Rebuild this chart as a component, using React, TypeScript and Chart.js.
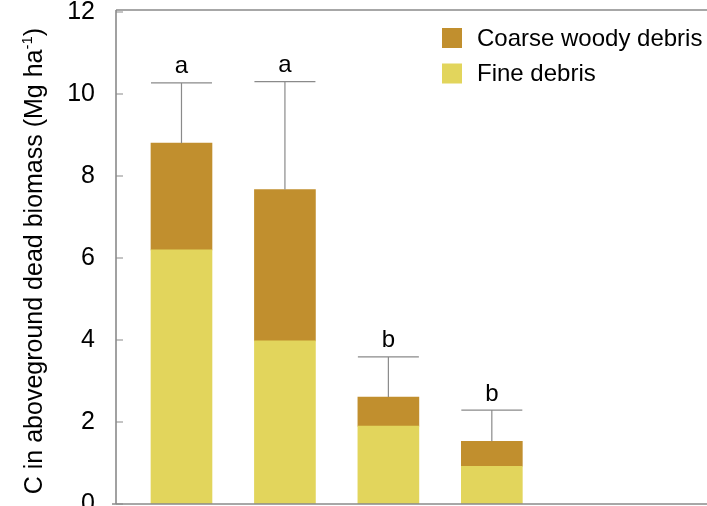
import React, { useEffect, useRef } from 'react';
import { Chart, registerables } from 'chart.js';

Chart.register(...registerables);

// ---- data ----
const categories = ['Site 1', 'Site 2', 'Site 3', 'Site 4'];
const positions = [1, 2, 3, 4];
const fineDebris = [6.2, 3.98, 1.9, 0.92];
const coarseDebris = [2.6, 3.69, 0.71, 0.61];
const errorUp = [1.47, 2.63, 0.98, 0.76];
const letters = ['a', 'a', 'b', 'b'];
const yTickValues = [0, 2, 4, 6, 8, 10, 12];

const FINE = '#E2D55C';
const COARSE = '#C18F2E';
const LINE = '#8a8a8a';
const FONT = '"Liberation Sans", Arial, Helvetica, sans-serif';
const W = 707;
const H = 560;

const overlay = {
  id: 'overlay',
  afterDraw(chart: any) {
    const ctx = chart.ctx;
    const { left, right, top, bottom } = chart.chartArea;
    const xs = chart.scales.x;
    const ys = chart.scales.y;
    ctx.save();
    // frame
    ctx.strokeStyle = LINE;
    ctx.lineWidth = 1.6;
    ctx.beginPath();
    ctx.moveTo(left, top - 2);
    ctx.lineTo(right, top - 2);
    ctx.moveTo(left, top - 2);
    ctx.lineTo(left, bottom);
    ctx.moveTo(left - 4, bottom);
    ctx.lineTo(right, bottom);
    ctx.stroke();
    // inward ticks
    ctx.lineWidth = 1.2;
    ctx.beginPath();
    yTickValues.forEach((v) => {
      const py = ys.getPixelForValue(v);
      ctx.moveTo(left, py);
      ctx.lineTo(left + 7, py);
    });
    ctx.stroke();
    // error bars + letters
    const meta = chart.getDatasetMeta(1);
    ctx.lineWidth = 1.2;
    ctx.fillStyle = '#000';
    ctx.font = `24px ${FONT}`;
    ctx.textAlign = 'center';
    ctx.textBaseline = 'alphabetic';
    positions.forEach((p, i) => {
      const total = fineDebris[i] + coarseDebris[i];
      const px = xs.getPixelForValue(p);
      const y0 = ys.getPixelForValue(total);
      const y1 = ys.getPixelForValue(total + errorUp[i]);
      const bw = meta.data[i] ? meta.data[i].width : 61;
      ctx.beginPath();
      ctx.moveTo(px, y0);
      ctx.lineTo(px, y1);
      ctx.moveTo(px - bw / 2, y1);
      ctx.lineTo(px + bw / 2, y1);
      ctx.stroke();
      ctx.fillText(letters[i], px, y1 - 9.5);
    });
    // legend
    const items = [
      { label: chart.data.datasets[1].label, color: COARSE, cy: 38 },
      { label: chart.data.datasets[0].label, color: FINE, cy: 73.5 },
    ];
    ctx.textAlign = 'left';
    ctx.textBaseline = 'middle';
    items.forEach((it) => {
      ctx.fillStyle = it.color;
      ctx.fillRect(442, it.cy - 10, 20, 20);
      ctx.fillStyle = '#000';
      ctx.fillText(it.label, 477, it.cy + 1);
    });
    // y axis title with superscript
    ctx.translate(35, 261);
    ctx.rotate(-Math.PI / 2);
    const main = 'C in aboveground dead biomass (Mg ha';
    const sup = '-1';
    const end = ')';
    ctx.font = `25px ${FONT}`;
    const wMain = ctx.measureText(main).width;
    const wEnd = ctx.measureText(end).width;
    ctx.font = `15px ${FONT}`;
    const wSup = ctx.measureText(sup).width;
    const total = wMain + wSup + wEnd;
    let x = -total / 2;
    ctx.textBaseline = 'middle';
    ctx.font = `25px ${FONT}`;
    ctx.fillText(main, x, 0);
    x += wMain;
    ctx.font = `15px ${FONT}`;
    ctx.fillText(sup, x, -7);
    x += wSup;
    ctx.font = `25px ${FONT}`;
    ctx.fillText(end, x, 0);
    ctx.restore();
  },
};

export default function App() {
  const ref = useRef<HTMLCanvasElement | null>(null);
  useEffect(() => {
    if (!ref.current) return;
    const chart = new Chart(ref.current, {
      type: 'bar',
      data: {
        labels: categories,
        datasets: [
          {
            label: 'Fine debris',
            data: positions.map((x, i) => ({ x, y: fineDebris[i] })),
            backgroundColor: FINE,
            barThickness: 61,
            stack: 's',
          },
          {
            label: 'Coarse woody debris',
            data: positions.map((x, i) => ({ x, y: coarseDebris[i] })),
            backgroundColor: COARSE,
            barThickness: 61,
            stack: 's',
          },
        ],
      },
      options: {
        animation: false,
        responsive: false,
        maintainAspectRatio: false,
        layout: { padding: { top: 12, right: 0, bottom: 56, left: 0 } },
        plugins: { legend: { display: false }, tooltip: { enabled: false } },
        scales: {
          x: {
            type: 'linear',
            min: 0.367,
            max: 6.08,
            offset: false,
            stacked: true,
            display: false,
          },
          y: {
            min: 0,
            max: 12,
            stacked: true,
            afterFit: (s: any) => {
              s.width = 116;
              s.paddingTop = 0;
              s.paddingBottom = 0;
            },
            grid: { display: false, drawTicks: false },
            border: { display: false },
            ticks: {
              stepSize: 2,
              padding: 21,
              color: '#000',
              font: { family: FONT, size: 25, lineHeight: 1 },
            },
          },
        },
      },
      plugins: [overlay],
    });
    return () => chart.destroy();
  }, []);
  return (
    <div style={{ position: 'fixed', left: 0, top: 0, width: W, height: H, background: '#fff' }}>
      <canvas ref={ref} width={W} height={H} style={{ width: W, height: H, display: 'block' }} />
    </div>
  );
}
